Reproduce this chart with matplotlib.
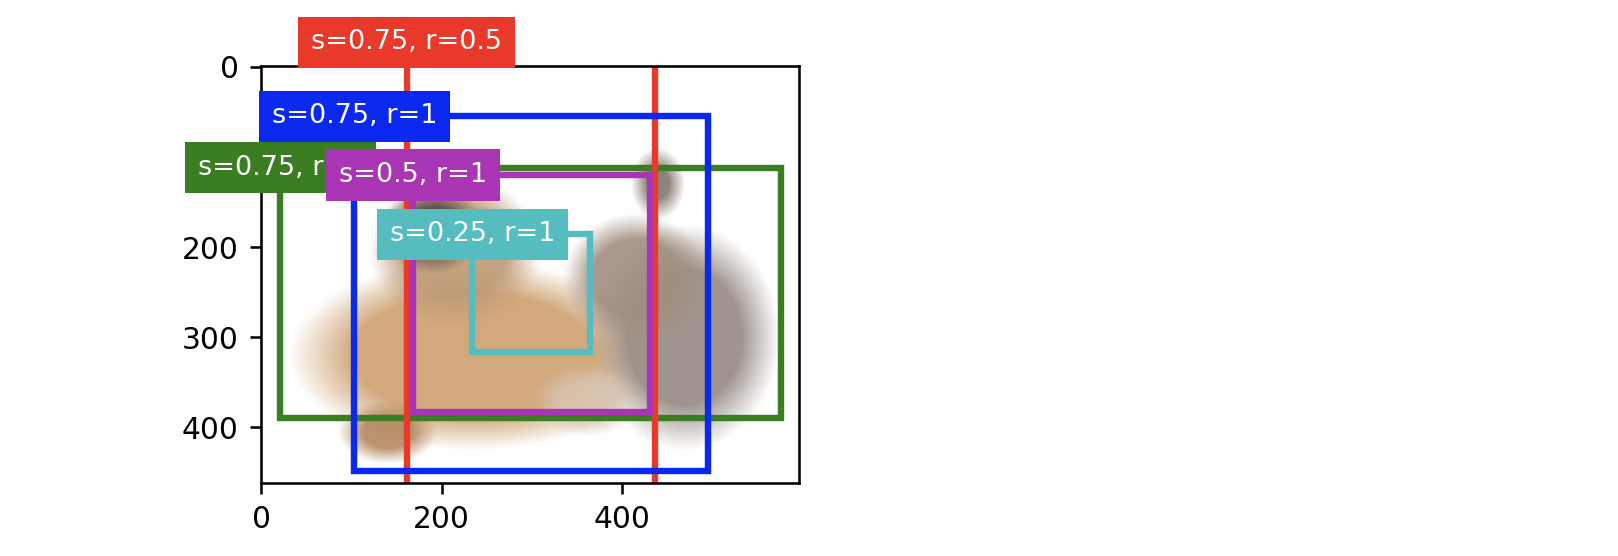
import numpy as np
import matplotlib
matplotlib.use("Agg")
import matplotlib.pyplot as plt

# ---- data ----
img_width = 597
img_height = 462
labels = ["s=0.75, r=2", "s=0.75, r=0.5", "s=0.75, r=1", "s=0.5, r=1", "s=0.25, r=1"]
box_x0 = [21, 161, 103, 168, 234]
box_y0 = [112, -27, 55, 120, 186]
box_x1 = [576, 437, 495, 431, 365]
box_y1 = [390, 529, 448, 383, 317]
colors = ["#3a7d22", "#e8392a", "#0a28ee", "#a935b5", "#55bcc0"]
xticks = [0, 200, 400]
yticks = [0, 100, 200, 300, 400]

# ---- placeholder picture (soft blobs standing in for the photo) ----
H, W = img_height, img_width
yy, xx = np.mgrid[0:H, 0:W]
canvas = np.ones((H, W, 3)) * 255.0

blobs = [
    # cx, cy, rx, ry, colour, softness
    (235, 320, 205, 105, (205, 160, 110), 0.35),
    (140, 405, 55, 35, (180, 135, 95), 0.5),
    (215, 205, 95, 85, (190, 155, 118), 0.4),
    (190, 180, 55, 50, (70, 62, 60), 0.6),
    (470, 300, 105, 125, (150, 138, 130), 0.4),
    (415, 235, 80, 72, (160, 142, 128), 0.4),
    (440, 130, 30, 40, (130, 118, 110), 0.6),
    (360, 370, 60, 40, (215, 195, 175), 0.5),
]
for cx, cy, rx, ry, col, soft in blobs:
    d = np.sqrt(((xx - cx) / rx) ** 2 + ((yy - cy) / ry) ** 2)
    a = np.clip((1.0 - d) / soft, 0, 1)[..., None] * 0.9
    canvas = canvas * (1 - a) + np.array(col)[None, None, :] * a
picture = canvas.astype(np.uint8)

# ---- figure ----
dpi = 230
fig = plt.figure(figsize=(1618 / dpi, 556 / dpi), dpi=dpi)
ax = fig.add_axes([261 / 1618, 1 - 483 / 556, (799 - 261) / 1618, (483 - 66) / 556])
ax.imshow(picture)

for lab, x0, y0, x1, y1, c in zip(labels, box_x0, box_y0, box_x1, box_y1, colors):
    rect = plt.Rectangle((x0, y0), x1 - x0, y1 - y0, fill=False, edgecolor=c, linewidth=2)
    ax.add_patch(rect)
for lab, x0, y0, c in zip(labels, box_x0, box_y0, colors):
    ax.text(x0, y0, lab, va="center", ha="center", fontsize=8.5, color="w",
            bbox=dict(facecolor=c, lw=0))

ax.set_xticks(xticks)
ax.set_yticks(yticks)
ax.set_xlim(-0.5, img_width - 0.5)
ax.set_ylim(img_height - 0.5, -0.5)
ax.tick_params(labelsize=9.3)

fig.savefig("out.png", dpi=dpi)
